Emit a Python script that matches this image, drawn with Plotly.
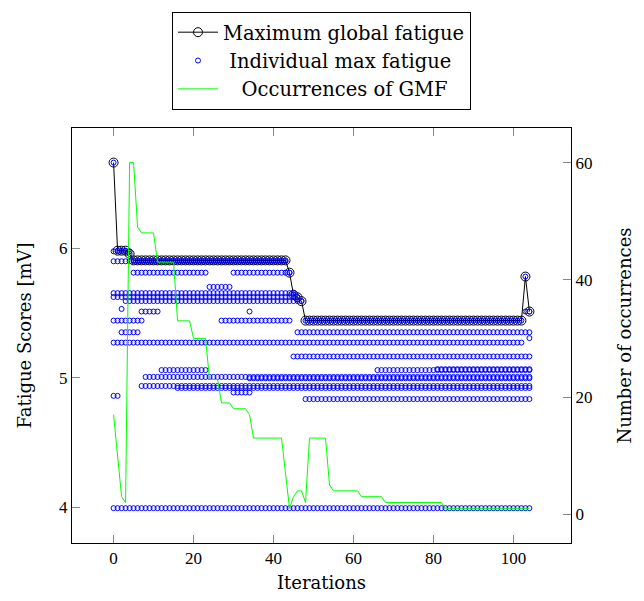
import plotly.graph_objects as go

iterations = list(range(105))

max_fatigue = [
    6.66, 5.98, 5.98, 5.98, 5.955,
    5.905, 5.905, 5.905, 5.905, 5.905, 5.905, 5.905, 5.905, 5.905, 5.905,
    5.905, 5.905, 5.905, 5.905, 5.905, 5.905, 5.905, 5.905, 5.905, 5.905,
    5.905, 5.905, 5.905, 5.905, 5.905, 5.905, 5.905, 5.905, 5.905, 5.905,
    5.905, 5.905, 5.905, 5.905, 5.905, 5.905, 5.905, 5.905, 5.905,
    5.81, 5.64, 5.62, 5.59,
    5.44, 5.44, 5.44, 5.44, 5.44, 5.44, 5.44, 5.44, 5.44, 5.44,
    5.44, 5.44, 5.44, 5.44, 5.44, 5.44, 5.44, 5.44, 5.44, 5.44,
    5.44, 5.44, 5.44, 5.44, 5.44, 5.44, 5.44, 5.44, 5.44, 5.44,
    5.44, 5.44, 5.44, 5.44, 5.44, 5.44, 5.44, 5.44, 5.44, 5.44,
    5.44, 5.44, 5.44, 5.44, 5.44, 5.44, 5.44, 5.44, 5.44, 5.44,
    5.44, 5.44, 5.44, 5.44, 5.44,
    5.78, 5.51,
]

occurrences = [
    17, 10, 3, 2, 60, 60, 49, 48, 48, 48, 48,
    43, 43, 43, 43, 43, 33, 33, 33, 33, 30, 30, 30, 30,
    23, 23, 23, 19, 19, 19, 18, 18, 18, 18, 17,
    13, 13, 13, 13, 13, 13, 13, 13, 7, 1, 3, 4, 4, 2,
    13, 13, 13, 13, 13, 5,
    4, 4, 4, 4, 4, 4, 4,
    3, 3, 3, 3, 3, 3,
    2, 2, 2, 2, 2, 2, 2, 2, 2, 2, 2, 2, 2, 2, 2,
    1, 1, 1, 1, 1, 1, 1, 1, 1, 1, 1, 1, 1, 1, 1, 1, 1, 1, 1, 1, 1, 1,
]

# Individual max fatigue: rows of equal values
# (value, first iteration, last iteration)
ind_value = [5.975, 5.898, 5.81, 5.81, 5.70, 5.652, 5.622, 5.591, 5.53,
             5.51, 5.51, 5.51, 5.44, 5.44, 5.35, 5.35, 5.305, 5.27, 5.163,
             5.058, 5.058, 5.065, 5.005, 4.995, 4.935, 4.92, 4.885, 4.859,
             4.834, 3.992]
ind_first = [0, 0, 5, 30, 24, 0, 0, 3, 2,
             7, 34, 103, 0, 27, 2, 46, 104, 0, 45,
             12, 66, 81, 8, 34, 7, 16, 30, 0,
             48, 0]
ind_last = [4, 43, 23, 44, 29, 45, 46, 47, 2,
            11, 34, 104, 7, 44, 6, 104, 104, 102, 104,
            23, 104, 104, 104, 104, 104, 104, 34, 1,
            104, 104]

ind_x, ind_y = [], []
for v, a, b in zip(ind_value, ind_first, ind_last):
    for it in range(a, b + 1):
        ind_x.append(it)
        ind_y.append(v)
# the individual holding the global maximum is also an individual
ind_x += iterations
ind_y += max_fatigue

TICKFONT = "Liberation Serif"
TEXTFONT = "DejaVu Serif"
NB = "\u00a0"

fig = go.Figure()
fig.add_trace(go.Scatter(
    x=iterations, y=max_fatigue, mode="lines+markers",
    name="Maximum global fatigue",
    line=dict(color="black", width=1),
    marker=dict(symbol="circle-open", size=9, color="black", line=dict(width=1)),
))
fig.add_trace(go.Scatter(
    x=ind_x, y=ind_y, mode="markers",
    name=NB + "Individual max fatigue",
    marker=dict(symbol="circle-open", size=5, color="blue", line=dict(width=1)),
))
fig.add_trace(go.Scatter(
    x=iterations, y=occurrences, mode="lines", yaxis="y2",
    name=NB * 3 + "Occurrences of GMF",
    line=dict(color="#00ff00", width=1),
))

axis_common = dict(
    showline=True, linecolor="black", linewidth=1,
    ticks="inside", ticklen=8, tickcolor="#888", tickwidth=1,
    showgrid=False, zeroline=False, automargin=False,
    tickfont=dict(family=TICKFONT, size=17, color="black"),
)

# page body has an 8px default margin; the figure is sized to fit the window
fig.update_layout(
    width=636, height=593,
    margin=dict(l=64, r=73, t=120, b=58),
    paper_bgcolor="white", plot_bgcolor="white",
    font=dict(family=TEXTFONT, size=17, color="black"),
    showlegend=True,
    legend=dict(
        x=0.5, xanchor="center", xref="paper",
        y=1 - 4 / 593, yanchor="top", yref="container",
        bordercolor="black", borderwidth=1, bgcolor="white",
        font=dict(family=TEXTFONT, size=19.5, color="black"),
        itemwidth=40, tracegroupgap=0,
    ),
    xaxis=dict(
        range=[-10.4, 114.4], tickvals=[0, 20, 40, 60, 80, 100],
        mirror="ticks",
        title=dict(text="Iterations", font=dict(family=TEXTFONT, size=18), standoff=8),
        **axis_common,
    ),
    yaxis=dict(
        range=[3.723, 6.927], tickvals=[4, 5, 6],
        mirror=True,
        title=dict(text="Fatigue Scores [mV]", font=dict(family=TEXTFONT, size=18), standoff=22),
        **axis_common,
    ),
    yaxis2=dict(
        range=[-4.9, 65.9], tickvals=[0, 20, 40, 60],
        overlaying="y", side="right",
        title=dict(text="Number of occurrences", font=dict(family=TEXTFONT, size=18), standoff=26),
        **axis_common,
    ),
)

fig.write_html("out.html")
